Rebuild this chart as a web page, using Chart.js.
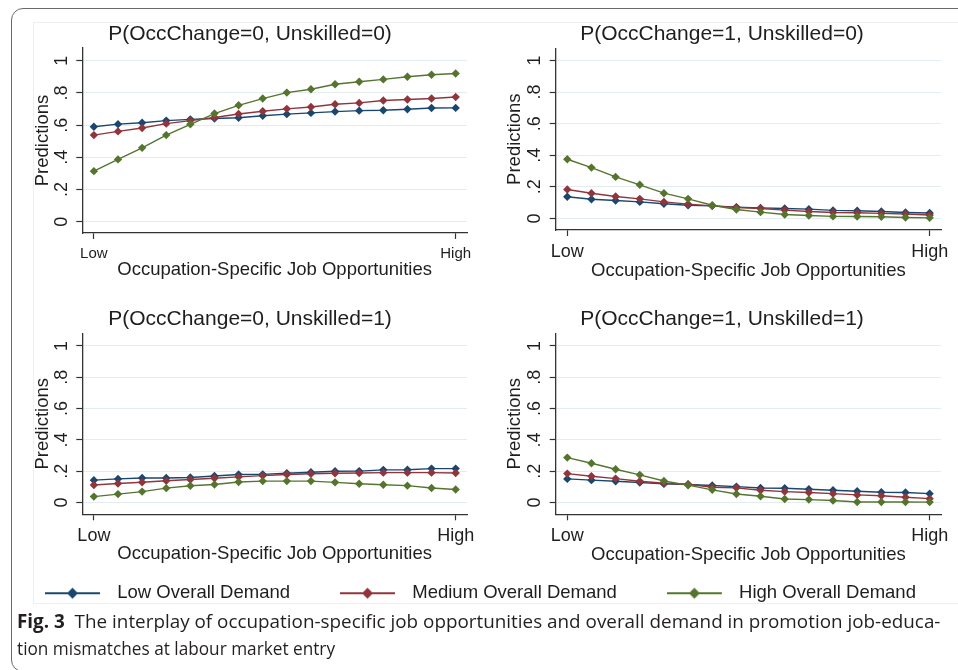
<!DOCTYPE html>
<html>
<head>
<meta charset="utf-8">
<script src="https://cdn.jsdelivr.net/npm/chart.js@4.4.1/dist/chart.umd.min.js"></script>
<style>
  html, body { margin:0; padding:0; background:#fff; width:958px; height:670px; overflow:hidden; position:relative; }
  .frame { position:absolute; left:11px; top:8px; width:1000px; height:664px; border:1.5px solid #6a6a6a; border-radius:12px; box-sizing:border-box; }
  .region { position:absolute; left:33px; top:22px; width:960px; height:582px; border:1px solid #efefef; box-sizing:border-box; }
  canvas { position:absolute; }
  .cap { position:absolute; left:17px; white-space:nowrap; font-family:'Open Sans','Noto Sans',sans-serif; font-size:19px; line-height:19px; color:#231f20; transform-origin:0 50%; }
  .cap b { font-weight:700; }
</style>
</head>
<body>
<div class="frame"></div>
<div class="region"></div>
<canvas id="p1" width="454" height="267" style="left:33px;top:14px;"></canvas>
<canvas id="p2" width="458" height="268" style="left:503px;top:14px;"></canvas>
<canvas id="p3" width="454" height="265" style="left:33px;top:300px;"></canvas>
<canvas id="p4" width="458" height="266" style="left:503px;top:300px;"></canvas>
<canvas id="leg" width="1000" height="260" style="left:-5px;top:534px;"></canvas>
<div class="cap" id="cap1" style="top:612px;"><b>Fig. 3</b>&nbsp; The interplay of occupation-specific job opportunities and overall demand in promotion job-educa-</div>
<div class="cap" id="cap2" style="top:639px;">tion mismatches at labour market entry</div>
<script>
// ---------------- data ----------------
const steps = [0,1,2,3,4,5,6,7,8,9,10,11,12,13,14,15];
const seriesNames = ['Low Overall Demand', 'Medium Overall Demand', 'High Overall Demand'];
const panelTitles = ['P(OccChange=0, Unskilled=0)', 'P(OccChange=1, Unskilled=0)',
                     'P(OccChange=0, Unskilled=1)', 'P(OccChange=1, Unskilled=1)'];
const xAxisTitle = 'Occupation-Specific Job Opportunities';
const yAxisTitle = 'Predictions';
const xTickValues = [0, 15];
const xTickLabels = ['Low', 'High'];
const yTickValues = [0, 0.2, 0.4, 0.6, 0.8, 1];
const yTickLabels = ['0', '.2', '.4', '.6', '.8', '1'];

// P(OccChange=0, Unskilled=0)
const p1Low    = [.590,.606,.615,.628,.636,.641,.646,.658,.668,.676,.684,.690,.692,.699,.706,.707];
const p1Medium = [.538,.561,.582,.609,.628,.647,.669,.686,.701,.713,.730,.738,.753,.759,.765,.775];
const p1High   = [.314,.387,.459,.538,.605,.672,.723,.765,.802,.823,.854,.869,.884,.900,.913,.921];
// P(OccChange=1, Unskilled=0)
const p2Low    = [.137,.122,.114,.105,.093,.084,.080,.072,.067,.063,.059,.051,.049,.044,.038,.035];
const p2Medium = [.183,.160,.139,.124,.105,.091,.080,.069,.063,.053,.044,.038,.036,.032,.028,.022];
const p2High   = [.375,.322,.263,.213,.160,.124,.084,.057,.040,.025,.019,.013,.012,.011,.006,.004];
// P(OccChange=0, Unskilled=1)
const p3Low    = [.143,.151,.157,.157,.160,.170,.179,.180,.187,.194,.200,.201,.209,.210,.217,.217];
const p3Medium = [.112,.122,.130,.139,.147,.155,.164,.172,.179,.184,.187,.189,.191,.191,.191,.189];
const p3High   = [.038,.054,.070,.092,.107,.115,.131,.137,.137,.137,.129,.120,.114,.108,.093,.083];
// P(OccChange=1, Unskilled=1)
const p4Low    = [.151,.143,.136,.128,.119,.115,.109,.102,.093,.091,.085,.079,.072,.066,.064,.057];
const p4Medium = [.185,.168,.153,.136,.123,.117,.098,.094,.079,.070,.064,.057,.049,.043,.034,.025];
const p4High   = [.287,.251,.213,.177,.138,.111,.081,.055,.040,.023,.019,.013,.004,.004,.004,.003];

// ---------------- style / layout ----------------
const FONT = "'Liberation Sans', Arial, Helvetica, sans-serif";
const TEXT = '#1e1e1e';
const colors = ['#1a476f', '#90353b', '#55752f'];

const panels = [
  { id:'p1', title:panelTitles[0], series:[p1Low,p1Medium,p1High],
    tpt:7.8, tpb:1.0, xh:48, yw:49.3, ytp:6.8, ytt:0.75, xtp:5.7, xfs:15, ymin:-0.070, ymax:1.079 },
  { id:'p2', title:panelTitles[1], series:[p2Low,p2Medium,p2High],
    tpt:7.8, tpb:1.3, xh:52, yw:52.7, ytp:7.5, ytt:2.45, xtp:4.9, xfs:18, ymin:-0.073, ymax:1.077 },
  { id:'p3', title:panelTitles[2], series:[p3Low,p3Medium,p3High],
    tpt:6.4, tpb:1.7, xh:50.7, yw:49.3, ytp:7.1, ytt:0.45, xtp:5.2, xfs:18, ymin:-0.075, ymax:1.081 },
  { id:'p4', title:panelTitles[3], series:[p4Low,p4Medium,p4High],
    tpt:6.4, tpb:1.7, xh:51.7, yw:52.7, ytp:7.5, ytt:3.05, xtp:5.2, xfs:18, ymin:-0.075, ymax:1.081 }
];

function makePanel(g) {
  return new Chart(document.getElementById(g.id), {
    type: 'line',
    data: {
      datasets: seriesNames.map((name, k) => ({
        label: name,
        data: steps.map((s, i) => ({ x: s, y: g.series[k][i] })),
        borderColor: colors[k],
        backgroundColor: colors[k],
        borderWidth: 1.4,
        pointStyle: 'rectRot',
        pointRadius: 4.2,
        pointBorderWidth: 0,
        pointBackgroundColor: colors[k],
        tension: 0,
        fill: false,
        order: 3 - k
      }))
    },
    options: {
      responsive: false, animation: false, devicePixelRatio: 1,
      layout: { padding: { left: 0, top: 0, right: 20, bottom: 0 } },
      plugins: {
        legend: { display: false },
        tooltip: { enabled: false },
        title: { display: true, text: g.title, color: TEXT,
                 font: { family: FONT, size: 21, weight: 'normal', lineHeight: 1.2 },
                 padding: { top: g.tpt, bottom: g.tpb } }
      },
      scales: {
        x: {
          type: 'linear', min: -0.48, max: 15.47,
          afterFit: s => { s.height = g.xh; },
          afterBuildTicks: s => { s.ticks = xTickValues.map(v => ({ value: v })); },
          ticks: { callback: (v, i) => xTickLabels[i], font: { family: FONT, size: g.xfs },
                   color: TEXT, padding: g.xtp, minRotation: 0, maxRotation: 0, autoSkip: false },
          grid: { drawOnChartArea: false, drawTicks: true, tickLength: 6, tickColor: '#333', tickWidth: 1.2 },
          border: { display: true, color: '#333', width: 1.3 },
          title: { display: true, text: xAxisTitle, color: TEXT,
                   font: { family: FONT, size: 18.5, lineHeight: 1.2 }, padding: { top: 0, bottom: 0 } }
        },
        y: {
          min: g.ymin, max: g.ymax,
          afterFit: s => { s.width = g.yw; },
          afterBuildTicks: s => { s.ticks = yTickValues.map(v => ({ value: v })); },
          ticks: { callback: (v, i) => yTickLabels[i], font: { family: FONT, size: 18 },
                   color: TEXT, padding: g.ytp, minRotation: 90, maxRotation: 90,
                   crossAlign: 'center', autoSkip: false },
          grid: { color: '#e3ecef', lineWidth: 1, drawTicks: true, tickLength: 6, tickColor: '#333', tickWidth: 1.2 },
          border: { display: true, color: '#333', width: 1.3 },
          title: { display: true, text: yAxisTitle, color: TEXT,
                   font: { family: FONT, size: 18.5, lineHeight: 1 }, padding: { top: g.ytt, bottom: 0 } }
        }
      }
    }
  });
}
panels.forEach(makePanel);

// legend symbols (line with marker)
function legendSymbol(color) {
  const c = document.createElement('canvas');
  c.width = 63; c.height = 14;
  const x = c.getContext('2d');
  x.strokeStyle = color; x.lineWidth = 1.8;
  x.beginPath(); x.moveTo(0, 7); x.lineTo(55, 7); x.stroke();
  x.fillStyle = color;
  x.beginPath(); x.moveTo(27.5, 1.5); x.lineTo(33, 7); x.lineTo(27.5, 12.5); x.lineTo(22, 7); x.closePath(); x.fill();
  return c;
}

new Chart(document.getElementById('leg'), {
  type: 'line',
  data: {
    datasets: seriesNames.map((name, k) => ({
      label: name, data: [], borderColor: colors[k], backgroundColor: colors[k],
      pointStyle: legendSymbol(colors[k])
    }))
  },
  options: {
    responsive: false, animation: false, devicePixelRatio: 1,
    layout: { padding: 0 },
    scales: { x: { display: false }, y: { display: false } },
    plugins: {
      tooltip: { enabled: false },
      legend: {
        display: true, position: 'top', align: 'start',
        labels: { usePointStyle: true, pointStyleWidth: 63, padding: 50, color: TEXT,
                  font: { family: FONT, size: 18.5 } }
      }
    }
  }
});

// caption: condensed to the widths of the original lines
function fitCaption() {
  [['cap1', 923], ['cap2', 318]].forEach(([id, w]) => {
    const el = document.getElementById(id);
    el.style.transform = 'none';
    const nat = el.offsetWidth;
    el.style.transform = 'scaleX(' + (w / nat) + ')';
  });
}
fitCaption();
if (document.fonts && document.fonts.ready) document.fonts.ready.then(fitCaption);
</script>
</body>
</html>
